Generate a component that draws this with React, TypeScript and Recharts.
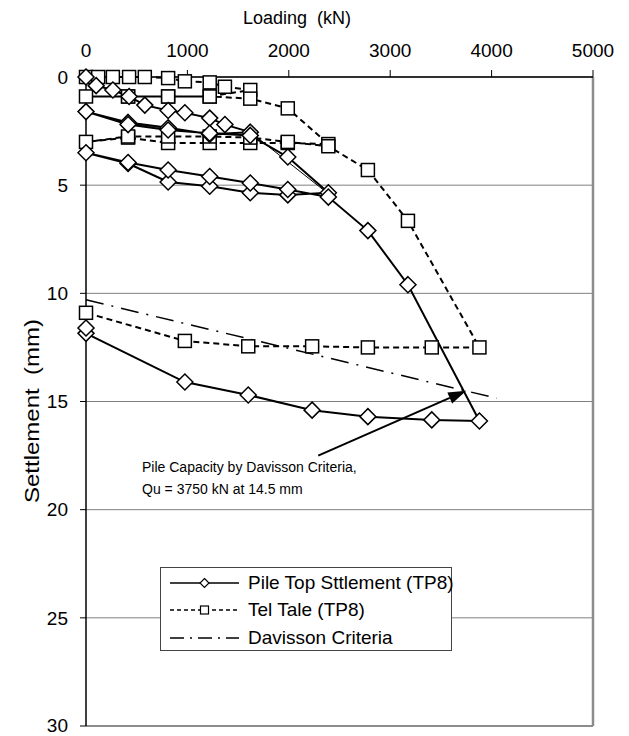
import React from 'react';
import { LineChart, Line, XAxis, YAxis, CartesianGrid, ReferenceLine } from 'recharts';

// Pile top settlement (TP8) - load/unload cycles, in test order
const pileLoad = [0, 100, 265, 425, 580, 810, 975, 1220, 1370, 1620, 1220, 810, 415, 0, 415, 810, 1220, 1620, 1990, 2390, 1990, 1620, 1220, 810, 415, 0, 415, 810, 1220, 1620, 1990, 2390, 2780, 3175, 3880, 3410, 2780, 2230, 1600, 975, 0, 0];
const pileSettle = [0, 0.4, 0.6, 0.9, 1.3, 1.55, 1.65, 1.9, 2.2, 2.55, 2.65, 2.35, 2.1, 1.6, 2.2, 2.45, 2.6, 2.7, 3.7, 5.35, 5.45, 5.35, 5.05, 4.85, 4.0, 3.5, 3.95, 4.3, 4.6, 4.9, 5.2, 5.55, 7.1, 9.6, 15.9, 15.85, 15.7, 15.4, 14.7, 14.1, 11.85, 11.6];

// Tel tale (TP8)
const telLoad = [0, 120, 265, 425, 580, 810, 975, 1220, 1370, 1620, 1220, 810, 415, 0, 415, 810, 1220, 1620, 1990, 2390, 1990, 1620, 1220, 810, 415, 0, 415, 810, 1220, 1620, 1990, 2390, 2780, 3175, 3880, 3410, 2780, 2230, 1600, 975, 0];
const telSettle = [0, 0, 0, 0, 0, 0.05, 0.2, 0.25, 0.45, 0.6, 0.9, 0.9, 0.9, 0.9, 0.9, 0.9, 0.9, 1.0, 1.45, 3.1, 3.05, 3.05, 3.05, 3.05, 2.8, 3.0, 2.75, 2.75, 2.75, 2.8, 3.0, 3.2, 4.3, 6.65, 12.5, 12.5, 12.5, 12.45, 12.45, 12.2, 10.9];

// thin segment on the pile top curve
const thinLoad = [1620, 2390];
const thinSettle = [2.55, 5.4];

// Davisson criteria line
const davLoad = [0, 4050];
const davSettle = [10.3, 14.85];

const loadTicks = [0, 1000, 2000, 3000, 4000, 5000];
const settleTicks = [0, 5, 10, 15, 20, 25, 30];

// capacity arrow (from text to Qu point)
const arrowFrom = { x: 2290, y: 17.5 };
const arrowTo = { x: 3750, y: 14.5 };

const zip = (xs: number[], ys: number[]) => xs.map((x, i) => ({ x, y: ys[i] }));
const pileData = zip(pileLoad, pileSettle);
const telData = zip(telLoad, telSettle);
const thinData = zip(thinLoad, thinSettle);
const davData = zip(davLoad, davSettle);

const FONT = '"Liberation Sans", Arial, sans-serif';

const Diamond = (props: any) => {
  const { cx, cy, index } = props;
  if (cx == null || cy == null) return <g key={index} />;
  const r = 8;
  return (
    <path
      key={index}
      d={`M${cx},${cy - r}L${cx + r},${cy}L${cx},${cy + r}L${cx - r},${cy}Z`}
      fill="#fff"
      stroke="#000"
      strokeWidth={1.5}
    />
  );
};

const Square = (props: any) => {
  const { cx, cy, index } = props;
  if (cx == null || cy == null) return <g key={index} />;
  const h = 6.5;
  return <rect key={index} x={cx - h} y={cy - h} width={h * 2} height={h * 2} fill="#fff" stroke="#000" strokeWidth={1.5} />;
};

const Arrow = (props: any) => {
  const { x1, y1, x2, y2 } = props;
  if ([x1, y1, x2, y2].some((v) => v == null || isNaN(v))) return null;
  const ang = Math.atan2(y2 - y1, x2 - x1);
  const len = 18;
  const w = 6;
  const bx = x2 - len * Math.cos(ang);
  const by = y2 - len * Math.sin(ang);
  const px = -Math.sin(ang) * w;
  const py = Math.cos(ang) * w;
  return (
    <g>
      <line x1={x1} y1={y1} x2={bx} y2={by} stroke="#000" strokeWidth={2} />
      <polygon points={`${x2},${y2} ${bx + px},${by + py} ${bx - px},${by - py}`} fill="#000" />
    </g>
  );
};

const legendItems = [
  { label: 'Pile Top Sttlement (TP8)', dash: undefined, mark: 'diamond' },
  { label: 'Tel Tale (TP8)', dash: '4 3', mark: 'square' },
  { label: 'Davisson Criteria', dash: '14 6 2 6', mark: 'none' },
];

export default function App() {
  return (
    <div style={{ position: 'relative', width: 621, height: 728, fontFamily: FONT }}>
      <LineChart width={621} height={728} margin={{ top: 29, right: 36, bottom: 10, left: 18 }}>
        <CartesianGrid vertical={false} stroke="#808080" strokeWidth={1} />
        <XAxis
          type="number"
          dataKey="x"
          orientation="top"
          domain={[0, 5000]}
          ticks={loadTicks}
          height={40}
          tickSize={7}
          tickMargin={13}
          tick={{ fill: '#000', fontSize: 19, fontFamily: FONT }}
          axisLine={{ stroke: '#000', strokeWidth: 1.5 }}
          tickLine={{ stroke: '#000' }}
          label={() => (
            <text x={289} y={16} textAnchor="middle" fontSize={18} fontFamily={FONT} fill="#000" style={{ whiteSpace: 'pre' }}>
              Loading  (kN)
            </text>
          )}
        />
        <YAxis
          type="number"
          dataKey="y"
          reversed
          domain={[0, 30]}
          ticks={settleTicks}
          width={60}
          tickSize={6}
          tickMargin={12}
          tick={{ fill: '#000', fontSize: 19, fontFamily: FONT }}
          axisLine={{ stroke: '#000', strokeWidth: 1.5 }}
          tickLine={{ stroke: '#000' }}
          label={() => (
            <text x={23} y={403} transform="rotate(-90 23 403)" textAnchor="middle" dominantBaseline="central" fontSize={21} fontFamily={FONT} fill="#000" textLength={184} lengthAdjust="spacingAndGlyphs" style={{ whiteSpace: 'pre' }}>
              Settlement  (mm)
            </text>
          )}
        />
        <ReferenceLine x={5000} stroke="#8c8c8c" strokeWidth={2.5} />
        <ReferenceLine y={30} stroke="#8c8c8c" strokeWidth={2} />
        <Line data={davData} dataKey="y" stroke="#000" strokeWidth={1.5} strokeDasharray="18 8 2 8" dot={false} isAnimationActive={false} />
        <Line data={thinData} dataKey="y" stroke="#000" strokeWidth={1} dot={false} isAnimationActive={false} />
        <Line data={telData} dataKey="y" stroke="#000" strokeWidth={2} strokeDasharray="6 4" dot={Square} activeDot={false} isAnimationActive={false} />
        <Line data={pileData} dataKey="y" stroke="#000" strokeWidth={2} dot={Diamond} activeDot={false} isAnimationActive={false} />
        <ReferenceLine segment={[arrowFrom, arrowTo]} shape={Arrow} />
      </LineChart>

      <div style={{ position: 'absolute', left: 134, top: 448, fontSize: 14, lineHeight: '22px', color: '#000' }}>
        <div>Pile Capacity by Davisson Criteria,</div>
        <div>Qu = 3750 kN at 14.5 mm</div>
      </div>

      <div
        style={{
          position: 'absolute',
          left: 152,
          top: 559,
          width: 292,
          height: 84,
          border: '1px solid #444',
          background: '#fff',
          boxSizing: 'border-box',
          paddingTop: 1,
        }}
      >
        {legendItems.map((it) => (
          <div key={it.label} style={{ display: 'flex', alignItems: 'center', height: 27.5, whiteSpace: 'nowrap' }}>
            <svg width={80} height={20} style={{ marginLeft: 9, flex: 'none' }}>
              <line x1={0} y1={10} x2={69} y2={10} stroke="#000" strokeWidth={1.5} strokeDasharray={it.dash} />
              {it.mark === 'diamond' && <path d="M34.5,5.5L39,10L34.5,14.5L30,10Z" fill="#fff" stroke="#000" strokeWidth={1.2} />}
              {it.mark === 'square' && <rect x={30.5} y={6} width={8} height={8} fill="#fff" stroke="#000" strokeWidth={1.2} />}
            </svg>
            <span style={{ fontSize: 19, marginLeft: -2 }}>{it.label}</span>
          </div>
        ))}
      </div>
    </div>
  );
}
